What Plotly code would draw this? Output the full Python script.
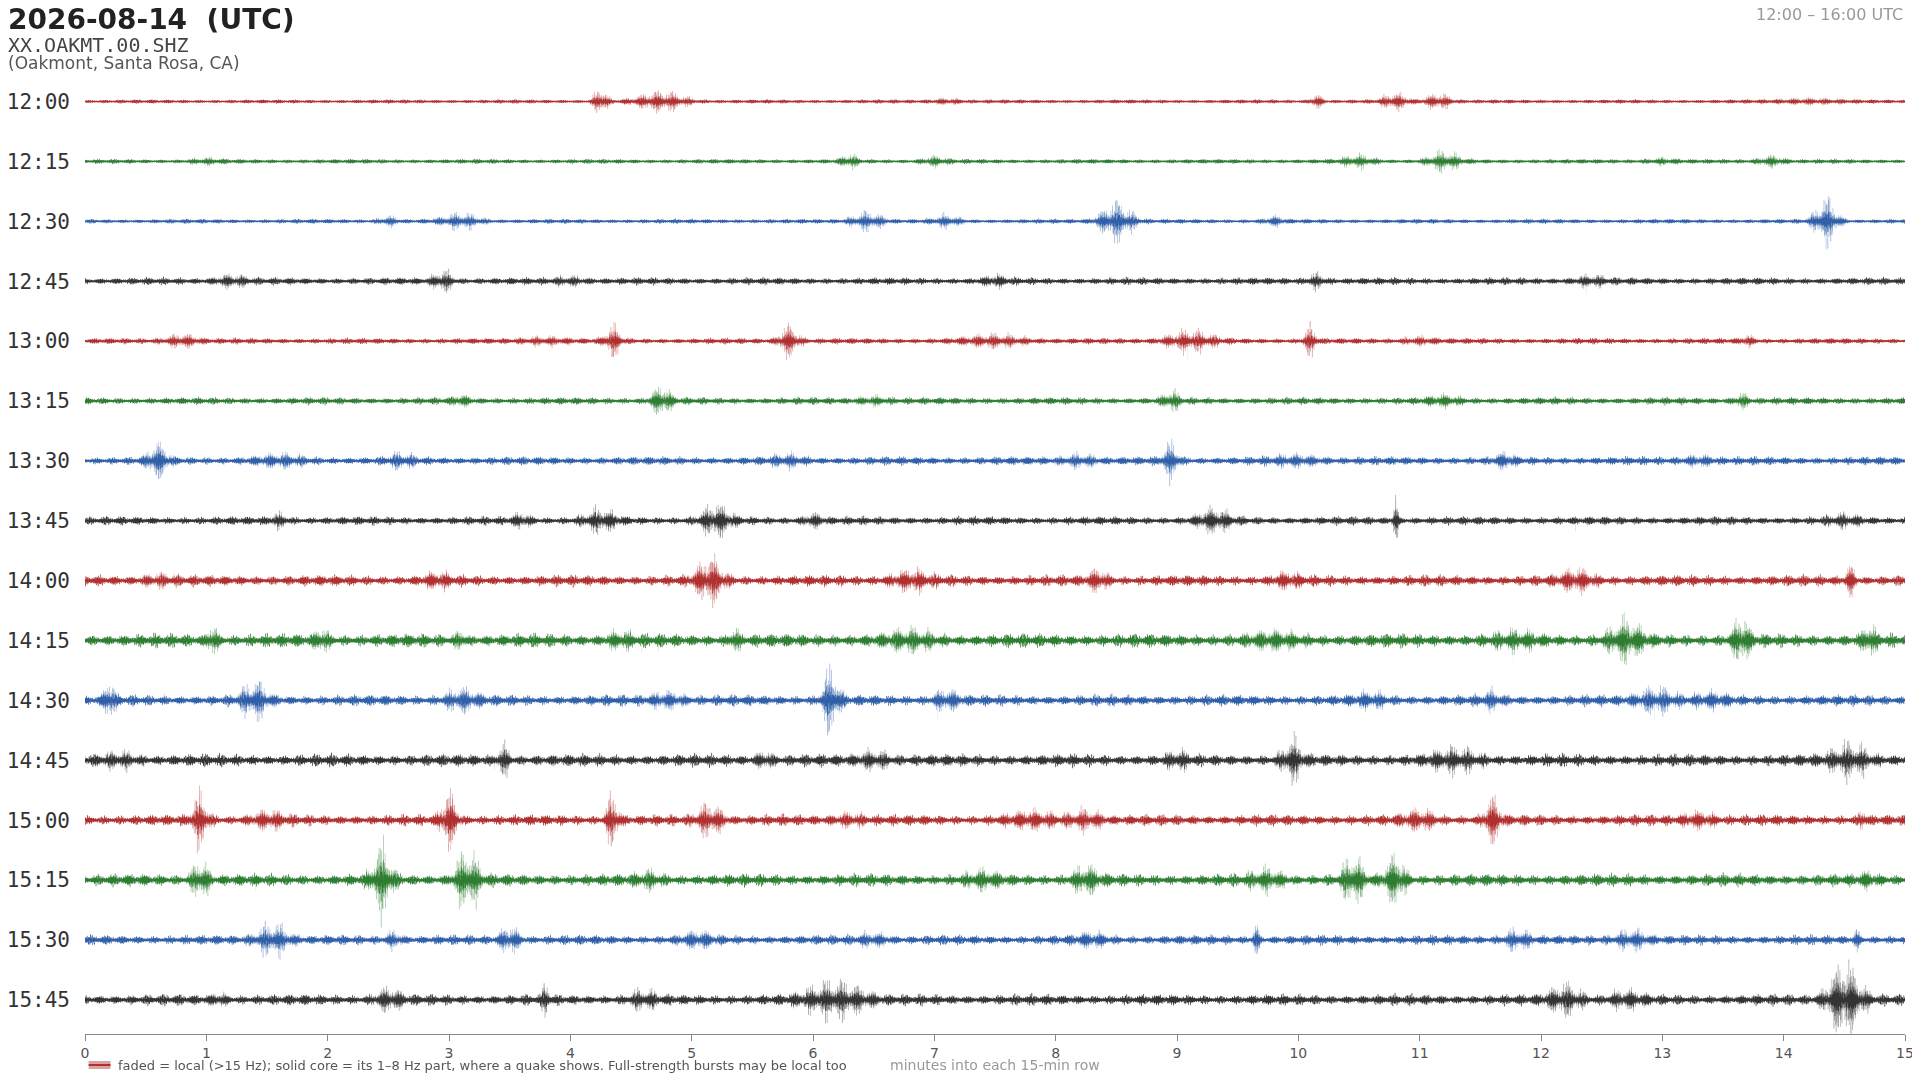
import numpy as np
import plotly.graph_objects as go

# helicorder rows, 15 minutes each
row_labels = ["12:00", "12:15", "12:30", "12:45", "13:00", "13:15", "13:30", "13:45",
              "14:00", "14:15", "14:30", "14:45", "15:00", "15:15", "15:30", "15:45"]
row_colors = ["#b03030", "#2e7d32", "#2f5fa8", "#333333"] * 4

# background noise level of each row (fraction of row spacing)
noise_level = [0.025, 0.03, 0.03, 0.05, 0.04, 0.05, 0.06, 0.06,
               0.08, 0.10, 0.08, 0.09, 0.08, 0.09, 0.07, 0.08]

# bursts: (minute, amplitude, duration in minutes)
bursts = [
    [(4.25, 0.32, 0.04), (4.75, 0.22, 0.15), (7.1, 0.06, 0.1), (10.15, 0.15, 0.04), (10.8, 0.18, 0.08), (11.15, 0.18, 0.08), (14.2, 0.06, 0.2)],
    [(1.0, 0.05, 0.1), (6.3, 0.15, 0.05), (7.0, 0.1, 0.08), (10.5, 0.12, 0.1), (11.2, 0.2, 0.1), (13.0, 0.06, 0.1), (13.9, 0.12, 0.08)],
    [(2.5, 0.1, 0.06), (3.1, 0.16, 0.12), (6.45, 0.2, 0.1), (7.1, 0.12, 0.08), (8.5, 0.45, 0.1), (9.8, 0.1, 0.06), (14.35, 0.52, 0.07)],
    [(1.2, 0.12, 0.1), (2.95, 0.22, 0.06), (4.0, 0.08, 0.1), (7.5, 0.1, 0.08), (10.15, 0.14, 0.06), (12.4, 0.1, 0.1)],
    [(0.8, 0.14, 0.1), (3.8, 0.08, 0.15), (4.35, 0.32, 0.05), (5.8, 0.36, 0.06), (7.5, 0.12, 0.2), (9.1, 0.22, 0.15), (10.1, 0.3, 0.04), (11.0, 0.08, 0.1), (13.7, 0.1, 0.05)],
    [(3.1, 0.1, 0.05), (4.75, 0.32, 0.06), (6.5, 0.08, 0.1), (8.95, 0.2, 0.05), (11.2, 0.1, 0.1), (13.65, 0.14, 0.05)],
    [(0.6, 0.36, 0.06), (1.6, 0.1, 0.15), (2.6, 0.12, 0.08), (5.8, 0.1, 0.1), (8.2, 0.12, 0.1), (8.95, 0.36, 0.05), (10.0, 0.1, 0.15), (11.7, 0.14, 0.06), (13.3, 0.1, 0.1)],
    [(1.6, 0.12, 0.06), (3.6, 0.14, 0.06), (4.25, 0.22, 0.1), (5.2, 0.35, 0.09), (6.0, 0.14, 0.06), (9.3, 0.24, 0.1), (10.8, 0.65, 0.015), (14.5, 0.1, 0.1)],
    [(0.6, 0.1, 0.1), (2.9, 0.12, 0.08), (5.15, 0.5, 0.08), (6.8, 0.2, 0.12), (8.35, 0.22, 0.06), (9.9, 0.14, 0.08), (12.3, 0.22, 0.1), (14.55, 0.32, 0.03)],
    [(1.05, 0.35, 0.03), (1.95, 0.24, 0.04), (3.1, 0.18, 0.03), (4.4, 0.14, 0.08), (5.35, 0.24, 0.03), (6.8, 0.16, 0.15), (9.8, 0.12, 0.15), (11.8, 0.12, 0.15), (12.7, 0.4, 0.1), (13.65, 0.5, 0.05), (14.7, 0.3, 0.04)],
    [(0.2, 0.48, 0.03), (1.4, 0.36, 0.08), (3.1, 0.22, 0.1), (4.8, 0.16, 0.1), (6.15, 0.7, 0.05), (7.1, 0.2, 0.08), (10.6, 0.12, 0.1), (11.6, 0.14, 0.06), (12.95, 0.26, 0.12), (13.4, 0.12, 0.1)],
    [(0.3, 0.12, 0.1), (3.45, 0.28, 0.04), (5.6, 0.16, 0.05), (6.5, 0.16, 0.1), (9.0, 0.14, 0.06), (9.95, 0.42, 0.06), (11.3, 0.2, 0.15), (14.55, 0.34, 0.12)],
    [(0.95, 0.55, 0.05), (1.5, 0.16, 0.1), (3.0, 0.62, 0.05), (4.35, 0.56, 0.04), (5.15, 0.34, 0.08), (6.3, 0.12, 0.1), (7.8, 0.14, 0.15), (8.25, 0.2, 0.1), (11.0, 0.18, 0.1), (11.6, 0.5, 0.05), (13.3, 0.16, 0.1), (14.65, 0.24, 0.02)],
    [(0.95, 0.42, 0.05), (2.45, 0.7, 0.06), (3.15, 0.64, 0.07), (4.65, 0.14, 0.08), (7.4, 0.14, 0.1), (8.25, 0.28, 0.08), (9.75, 0.2, 0.1), (10.45, 0.5, 0.06), (10.8, 0.55, 0.06), (14.7, 0.12, 0.05)],
    [(1.55, 0.34, 0.1), (2.55, 0.16, 0.05), (3.5, 0.3, 0.06), (5.05, 0.14, 0.1), (6.5, 0.12, 0.1), (8.3, 0.12, 0.1), (9.65, 0.35, 0.02), (11.8, 0.2, 0.08), (12.75, 0.2, 0.1), (14.6, 0.2, 0.02)],
    [(1.1, 0.1, 0.05), (2.5, 0.22, 0.08), (3.8, 0.34, 0.02), (4.6, 0.16, 0.08), (6.1, 0.24, 0.15), (6.3, 0.22, 0.15), (12.2, 0.32, 0.1), (12.7, 0.16, 0.1), (14.5, 0.85, 0.1)],
]

x_ticks = list(range(16))

t = np.linspace(0, 15, 9000)


def carrier(i):
    # deterministic jagged wiggle
    p = np.arange(t.size) * 2.17 + i * 17.3
    return (0.55 * np.sin(p) + 0.3 * np.sin(p * 1.618 + 0.7) + 0.15 * np.sin(p * 0.413 + i)) * \
        (0.7 + 0.3 * np.sin(p * 0.0371 + 2 * i))


def rgba(hexc, a):
    h = hexc.lstrip("#")
    return "rgba(%d,%d,%d,%s)" % (int(h[0:2], 16), int(h[2:4], 16), int(h[4:6], 16), a)


fig = go.Figure()
for i, lab in enumerate(row_labels):
    base = noise_level[i] * (1 + 0.5 * np.sin(t * 3.1 + i) ** 2)
    env_full = base.copy()
    env_core = base * 0.9
    for m, a, w in bursts[i]:
        g = np.exp(-0.5 * ((t - m) / w) ** 2)
        env_full = env_full + a * g
        env_core = env_core + a * 0.35 * g
    w = carrier(i)
    fig.add_trace(go.Scattergl(x=t, y=-i + env_full * w, mode="lines",
                               line=dict(color=rgba(row_colors[i], 0.45), width=1),
                               hoverinfo="skip", showlegend=False))
    fig.add_trace(go.Scattergl(x=t, y=-i + env_core * w, mode="lines",
                               line=dict(color=row_colors[i], width=1),
                               hoverinfo="skip", showlegend=False))

top, bottom = 45, 46
W, H = 1912, 1072
plot_h = H - top - bottom
leg_y = -31 / plot_h

fig.update_layout(
    width=W, height=H,
    paper_bgcolor="white", plot_bgcolor="white",
    margin=dict(l=77, r=15, t=top, b=bottom),
    font=dict(family="DejaVu Sans", color="#444"),
    xaxis=dict(range=[0, 15], tickvals=x_ticks, showgrid=False, zeroline=False, automargin=False,
               showline=True, linecolor="#888", ticks="outside", ticklen=6, tickcolor="#888",
               tickfont=dict(size=14, color="#555")),
    yaxis=dict(range=[-15.57, 0.81], tickvals=[-i for i in range(16)], ticktext=row_labels,
               showgrid=False, zeroline=False, showline=False, automargin=False,
               ticklabelstandoff=14,
               tickfont=dict(family="DejaVu Sans Mono", size=21, color="#333")),
    annotations=[
        dict(text="<b>2026-08-14  (UTC)</b>", xref="paper", yref="paper", x=0, y=1, xshift=-79, yshift=52,
             showarrow=False, xanchor="left", yanchor="top", font=dict(size=28, color="#222")),
        dict(text="XX.OAKMT.00.SHZ", xref="paper", yref="paper", x=0, y=1, xshift=-79, yshift=22,
             showarrow=False, xanchor="left", yanchor="top", font=dict(family="DejaVu Sans Mono", size=20, color="#444")),
        dict(text="(Oakmont, Santa Rosa, CA)", xref="paper", yref="paper", x=0, y=1, xshift=-79, yshift=2,
             showarrow=False, xanchor="left", yanchor="top", font=dict(size=17, color="#555")),
        dict(text="12:00 – 16:00 UTC", xref="paper", yref="paper", x=1, y=1, yshift=50,
             showarrow=False, xanchor="right", yanchor="top", font=dict(size=16, color="#999")),
        dict(text="faded = local (>15 Hz); solid core = its 1–8 Hz part, where a quake shows. Full-strength bursts may be local too",
             xref="paper", yref="paper", x=0, y=0, xshift=31, yshift=-31, showarrow=False,
             xanchor="left", yanchor="middle", font=dict(size=13, color="#555")),
        dict(text="minutes into each 15-min row", xref="paper", yref="paper", x=0.5, y=0, yshift=-31,
             showarrow=False, xanchor="center", yanchor="middle", font=dict(size=14, color="#999")),
    ],
    shapes=[
        dict(type="rect", xref="paper", yref="paper", x0=0.002, x1=0.014,
             y0=leg_y - 4 / plot_h, y1=leg_y + 4 / plot_h, fillcolor=rgba("#b03030", 0.45), line_width=0),
        dict(type="line", xref="paper", yref="paper", x0=0.002, x1=0.014, y0=leg_y, y1=leg_y,
             line=dict(color="#b03030", width=2)),
    ],
)
fig.write_html("out.html")
